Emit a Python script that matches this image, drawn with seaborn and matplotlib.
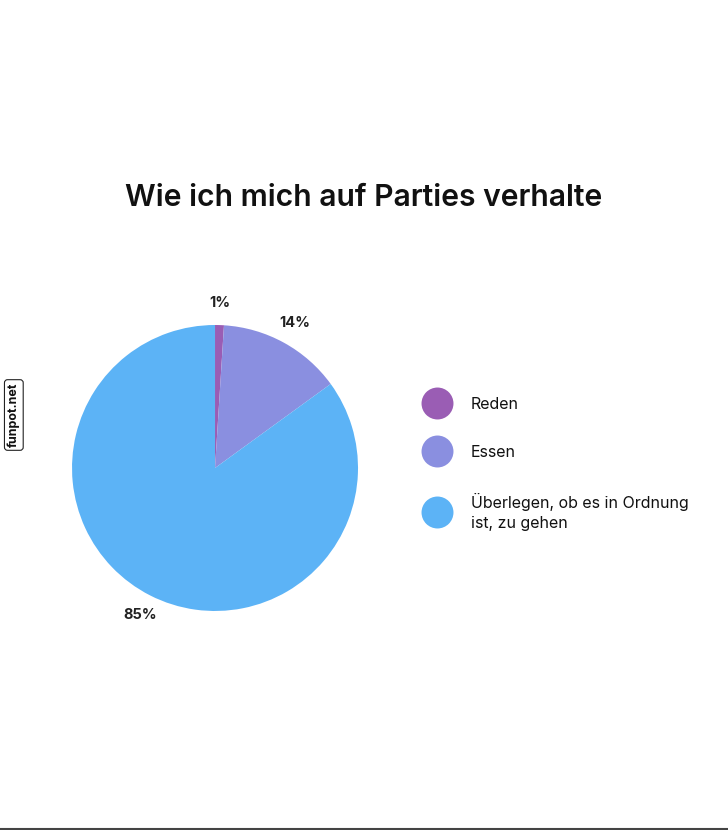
import matplotlib
matplotlib.use("Agg")
import matplotlib.pyplot as plt
from matplotlib.lines import Line2D
import seaborn as sns

# data
categories = ["Reden", "Essen", "Überlegen, ob es in Ordnung\nist, zu gehen"]
shares = [1, 14, 85]
pct_labels = ["1%", "14%", "85%"]
colors = ["#9a5db4", "#8a8fe0", "#5cb3f6"]

sns.set_theme(style="white")
plt.rcParams['font.family'] = ['Inter', 'DejaVu Sans']

fig = plt.figure(figsize=(7.28, 8.30), dpi=100)
fig.patch.set_facecolor("white")

# pie axes, centre ~ (215, 468) px, radius ~143 px (pie limits are +-1.25)
ax = fig.add_axes([0.0498, 0.2208, 0.4911, 0.4307])
wedges, texts = ax.pie(shares, colors=colors, startangle=90, counterclock=False,
                       labels=pct_labels, labeldistance=1.155,
                       textprops=dict(fontsize=10.5, fontweight="bold", color="#222222",
                                      ha="center", va="center"),
                       wedgeprops=dict(linewidth=0))
ax.set_aspect("equal")

fig.text(0.499, 0.762, "Wie ich mich auf Parties verhalte", ha="center", va="center",
         fontsize=21.7, fontweight="semibold", color="#111111")

handles = [Line2D([], [], marker="o", linestyle="none", markersize=23,
                  markerfacecolor=c, markeredgewidth=0) for c in colors]
leg = fig.legend(handles, categories, loc="upper left",
                 bbox_to_anchor=(0.5655, 0.539), frameon=False,
                 fontsize=11.5, labelspacing=2.05, handletextpad=1.4,
                 handlelength=1.4)
for t in leg.get_texts():
    t.set_linespacing(1.42)
    t.set_color("#111111")

# watermark
fig.text(0.019, 0.5, "funpot.net", rotation=90, ha="center", va="center",
         fontsize=9, fontweight="bold", color="#111111",
         bbox=dict(boxstyle="round,pad=0.25", fc="white", ec="#222222", lw=0.8))

# bottom rule
fig.add_artist(Line2D([0, 1], [0.0015, 0.0015], color="#444444", lw=1.5,
                      transform=fig.transFigure))

fig.savefig("out.png", dpi=100, facecolor="white")
